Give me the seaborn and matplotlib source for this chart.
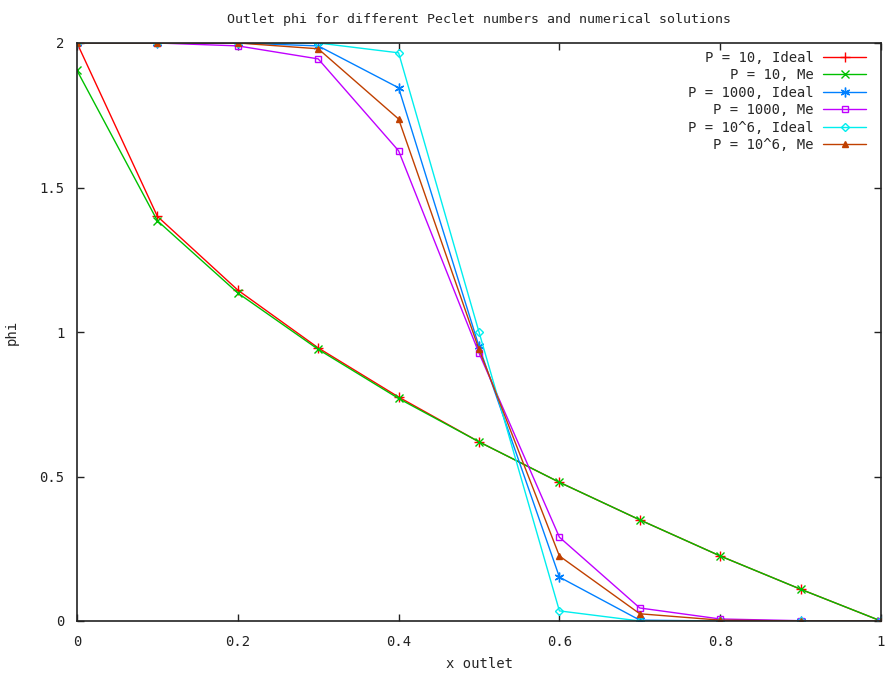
""" Outlet phi for different Peclet numbers """
import numpy as np
import seaborn as sns
import matplotlib.pyplot as plt
from matplotlib.ticker import FormatStrFormatter

# x positions along the outlet
x_outlet = [0.0, 0.1, 0.2, 0.3, 0.4, 0.5, 0.6, 0.7, 0.8, 0.9, 1.0]

# phi values
p10_ideal = [2.0, 1.40, 1.145, 0.945, 0.775, 0.62, 0.48, 0.35, 0.225, 0.11, 0.0]
p10_me = [1.905, 1.385, 1.135, 0.94, 0.77, 0.62, 0.48, 0.35, 0.225, 0.11, 0.0]
p1000_ideal = [2.0, 2.0, 2.0, 1.99, 1.845, 0.95, 0.152, 0.003, 0.0, 0.0, 0.0]
p1000_me = [2.0, 2.0, 1.99, 1.945, 1.627, 0.927, 0.29, 0.045, 0.007, 0.001, 0.0]
p1e6_ideal = [2.0, 2.0, 2.0, 2.0, 1.966, 1.0, 0.035, 0.0, 0.0, 0.0, 0.0]
p1e6_me = [2.0, 2.0, 2.0, 1.98, 1.737, 0.94, 0.225, 0.025, 0.003, 0.0, 0.0]

labels = ["P = 10, Ideal", "P = 10, Me", "P = 1000, Ideal",
          "P = 1000, Me", "P = 10^6, Ideal", "P = 10^6, Me"]
series = [p10_ideal, p10_me, p1000_ideal, p1000_me, p1e6_ideal, p1e6_me]
colors = ["#ff0000", "#00c000", "#0080ff", "#c000ff", "#00eeee", "#c04000"]
# gnuplot-like point types
markers = ["+", "x", (6, 2, 0), "s", "D", "^"]
msizes = [7, 6, 7, 5, 4, 5]
filled = [True, True, True, False, False, True]

sns.set_style("ticks")
plt.rcParams["font.family"] = ["DejaVu Sans Mono", "DejaVu Sans"]

fig = plt.figure(figsize=(8.9, 6.73), dpi=100)
ax = fig.add_axes([77 / 890, 52 / 673, 804 / 890, 578 / 673])

for i, y in enumerate(series):
    sns.lineplot(
        x=x_outlet, y=y, ax=ax, label=labels[i], color=colors[i],
        linewidth=1, marker=markers[i], markersize=msizes[i],
        markerfacecolor=colors[i] if filled[i] else "none",
        markeredgecolor=colors[i], markeredgewidth=1,
    )

ax.set_xlim(0, 1)
ax.set_ylim(0, 2)
ax.set_xticks(np.arange(0, 1.01, 0.2))
ax.set_yticks(np.arange(0, 2.01, 0.5))
ax.xaxis.set_major_formatter(FormatStrFormatter("%g"))
ax.yaxis.set_major_formatter(FormatStrFormatter("%g"))
ax.tick_params(direction="in", length=5, width=1, top=True, right=True,
               labelsize=10, colors="#222222")
ax.tick_params(axis="x", pad=10)
ax.tick_params(axis="y", pad=9)
for s in ax.spines.values():
    s.set_linewidth(1.2)
    s.set_color("#222222")
    s.set_visible(True)

ax.set_title("Outlet phi for different Peclet numbers and numerical solutions",
             fontsize=9.5, pad=14.5)
ax.set_xlabel("x outlet", fontsize=10, labelpad=6)
ax.set_ylabel("phi", fontsize=10)
ax.yaxis.set_label_coords(-0.073, 0.5)

ax.legend(loc="upper right", bbox_to_anchor=(0.9913, 1.0), frameon=False,
          markerfirst=False, fontsize=10, handlelength=3.1, labelspacing=0.25,
          borderaxespad=0.25, handletextpad=0.7, borderpad=0.3)

plt.savefig("out.png", dpi=100)
